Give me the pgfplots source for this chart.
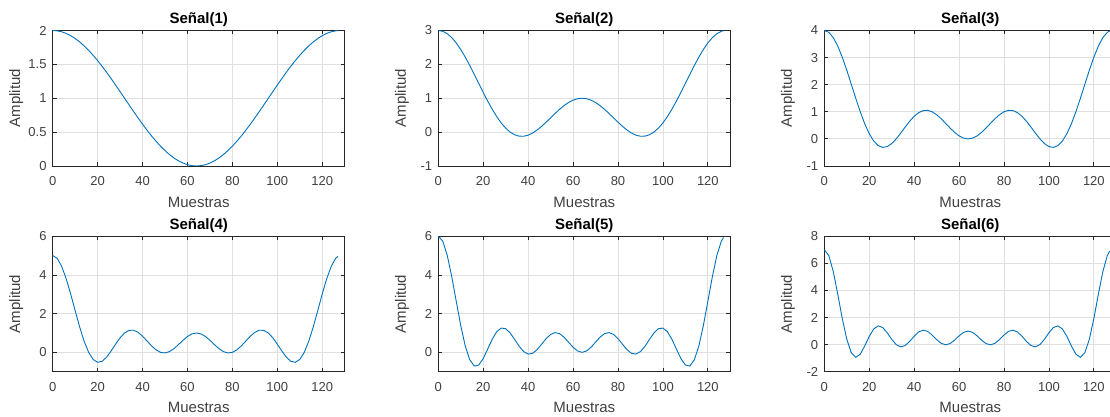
\documentclass[border=0pt]{standalone}
\usepackage{fontspec}
\setmainfont{Liberation Sans}
\usepackage{pgfplots}
\usepackage{pgfplotstable}
\pgfplotsset{compat=1.18}

\definecolor{mblue}{RGB}{0,114,189}
\definecolor{axgray}{RGB}{38,38,38}
\definecolor{lblgray}{RGB}{64,64,64}
\definecolor{gridgray}{RGB}{223,223,223}

% n: sample index; s1..s6: the six signals
\pgfplotstableread{
n s1 s2 s3 s4 s5 s6
0 2 3 4 5 6 7
2 1.995 2.976 3.933 4.857 5.739 6.570
4 1.981 2.905 3.736 4.443 4.999 5.382
6 1.957 2.788 3.423 3.805 3.904 3.708
8 1.924 2.631 3.014 3.014 2.631 1.924
10 1.882 2.437 2.536 2.153 1.380 0.399
12 1.831 2.214 2.019 1.312 0.331 -0.593
14 1.773 1.968 1.497 0.573 -0.384 -0.940
16 1.707 1.707 1.000 0.000 -0.707 -0.707
18 1.634 1.439 0.557 -0.367 -0.657 -0.101
20 1.556 1.173 0.192 -0.515 -0.320 0.604
22 1.471 0.916 -0.079 -0.462 0.172 1.153
24 1.383 0.676 -0.248 -0.248 0.676 1.383
26 1.290 0.459 -0.314 0.068 1.064 1.259
28 1.195 0.271 -0.284 0.423 1.254 0.872
30 1.098 0.117 -0.173 0.751 1.222 0.391
32 1.000 0.000 0.000 1.000 1.000 0.000
34 0.902 -0.079 0.211 1.135 0.664 -0.168
36 0.805 -0.119 0.437 1.144 0.312 -0.070
38 0.710 -0.122 0.651 1.034 0.039 0.234
40 0.617 -0.090 0.834 0.834 -0.090 0.617
42 0.529 -0.027 0.968 0.586 -0.049 0.932
44 0.444 0.062 1.043 0.335 0.140 1.064
46 0.366 0.171 1.052 0.129 0.419 0.974
48 0.293 0.293 1.000 0.000 0.707 0.707
50 0.227 0.422 0.893 -0.030 0.927 0.371
52 0.169 0.551 0.746 0.039 1.020 0.096
54 0.118 0.674 0.576 0.193 0.966 -0.015
56 0.076 0.783 0.401 0.401 0.783 0.076
58 0.043 0.875 0.240 0.623 0.525 0.330
60 0.019 0.943 0.112 0.819 0.263 0.646
62 0.005 0.986 0.029 0.953 0.071 0.902
64 0.000 1.000 0.000 1.000 0.000 1.000
66 0.005 0.986 0.029 0.953 0.071 0.902
68 0.019 0.943 0.112 0.819 0.263 0.646
70 0.043 0.875 0.240 0.623 0.525 0.330
72 0.076 0.783 0.401 0.401 0.783 0.076
74 0.118 0.674 0.576 0.193 0.966 -0.015
76 0.169 0.551 0.746 0.039 1.020 0.096
78 0.227 0.422 0.893 -0.030 0.927 0.371
80 0.293 0.293 1.000 0.000 0.707 0.707
82 0.366 0.171 1.052 0.129 0.419 0.974
84 0.444 0.062 1.043 0.335 0.140 1.064
86 0.529 -0.027 0.968 0.586 -0.049 0.932
88 0.617 -0.090 0.834 0.834 -0.090 0.617
90 0.710 -0.122 0.651 1.034 0.039 0.234
92 0.805 -0.119 0.437 1.144 0.312 -0.070
94 0.902 -0.079 0.211 1.135 0.664 -0.168
96 1.000 0.000 0.000 1.000 1.000 0.000
98 1.098 0.117 -0.173 0.751 1.222 0.391
100 1.195 0.271 -0.284 0.423 1.254 0.872
102 1.290 0.459 -0.314 0.068 1.064 1.259
104 1.383 0.676 -0.248 -0.248 0.676 1.383
106 1.471 0.916 -0.079 -0.462 0.172 1.153
108 1.556 1.173 0.192 -0.515 -0.320 0.604
110 1.634 1.439 0.557 -0.367 -0.657 -0.101
112 1.707 1.707 1.000 0.000 -0.707 -0.707
114 1.773 1.968 1.497 0.573 -0.384 -0.940
116 1.831 2.214 2.019 1.312 0.331 -0.593
118 1.882 2.437 2.536 2.153 1.380 0.399
120 1.924 2.631 3.014 3.014 2.631 1.924
122 1.957 2.788 3.423 3.805 3.904 3.708
124 1.981 2.905 3.736 4.443 4.999 5.382
126 1.995 2.976 3.933 4.857 5.739 6.570
127 1.999 2.994 3.983 4.964 5.934 6.891
}\senales

\pgfplotsset{
  senal/.style={
    scale only axis, width=292pt, height=135.5pt,
    anchor=south west,
    xmin=0, xmax=130, xtick={0,20,40,60,80,100,120},
    xticklabels={0,20,40,60,80,100,120},
    grid=major, grid style={gridgray, line width=0.8pt},
    axis line style={axgray, line width=0.8pt},
    tick style={axgray, line width=0.8pt},
    tick align=inside, major tick length=4pt,
    every tick label/.append style={font=\fontsize{13}{13}\selectfont, text=lblgray, inner sep=0pt},
    xticklabel style={anchor=north, yshift=-10.7pt},
    yticklabel style={anchor=east, xshift=-6pt},
    xlabel={Muestras}, ylabel={Amplitud},
    label style={font=\fontsize{15}{15}\selectfont, text=lblgray, inner sep=0pt},
    xlabel style={at={([yshift=-30.7pt]axis description cs:0.5,0)}, anchor=north},
    ylabel style={at={([xshift=-36.4pt]axis description cs:0,0.5)}, anchor=center},
    every axis title shift=0pt,
    title style={at={([yshift=6.7pt]axis description cs:0.5,1)}, anchor=base,
                 font=\fontsize{15}{15}\selectfont\bfseries, text=black, inner sep=0pt},
  },
  curva/.style={mblue, line width=0.9pt},
}

\begin{document}
\begin{tikzpicture}
\useasboundingbox (0,0) rectangle (1110pt,417pt);
\clip (0,0) rectangle (1110pt,417pt);

% top row
\begin{axis}[senal, at={(52.7pt,251pt)}, title={Señal(1)},
  ymin=0, ymax=2, ytick={0,0.5,1,1.5,2}, yticklabels={0,0.5,1,1.5,2}]
\addplot[curva] table[x=n, y=s1] {\senales};
\end{axis}

\begin{axis}[senal, at={(438.3pt,251pt)}, title={Señal(2)},
  ymin=-1, ymax=3, ytick={-1,0,1,2,3}, yticklabels={-1,0,1,2,3}]
\addplot[curva] table[x=n, y=s2] {\senales};
\end{axis}

\begin{axis}[senal, at={(824.3pt,251pt)}, title={Señal(3)},
  ymin=-1, ymax=4, ytick={-1,0,1,2,3,4}, yticklabels={-1,0,1,2,3,4}]
\addplot[curva] table[x=n, y=s3] {\senales};
\end{axis}

% bottom row
\begin{axis}[senal, at={(52.7pt,45.3pt)}, title={Señal(4)},
  ymin=-1, ymax=6, ytick={0,2,4,6}, yticklabels={0,2,4,6}]
\addplot[curva] table[x=n, y=s4] {\senales};
\end{axis}

\begin{axis}[senal, at={(438.3pt,45.3pt)}, title={Señal(5)},
  ymin=-1, ymax=6, ytick={0,2,4,6}, yticklabels={0,2,4,6}]
\addplot[curva] table[x=n, y=s5] {\senales};
\end{axis}

\begin{axis}[senal, at={(824.3pt,45.3pt)}, title={Señal(6)},
  ymin=-2, ymax=8, ytick={-2,0,2,4,6,8}, yticklabels={-2,0,2,4,6,8}]
\addplot[curva] table[x=n, y=s6] {\senales};
\end{axis}
\end{tikzpicture}
\end{document}
